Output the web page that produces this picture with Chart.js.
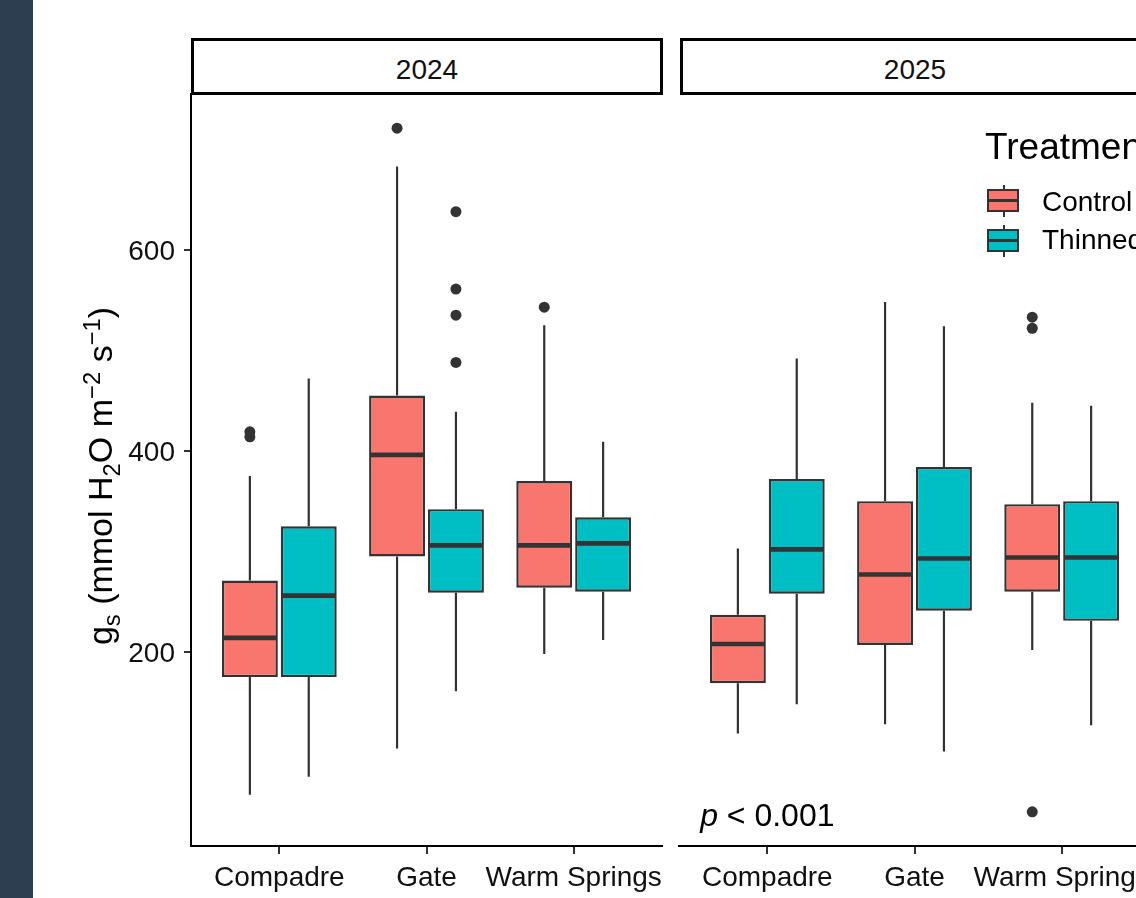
<!DOCTYPE html>
<html>
<head>
<meta charset="utf-8">
<script src="https://cdn.jsdelivr.net/npm/chart.js@4.4.1/dist/chart.umd.min.js"></script>
<style>
  html, body { margin: 0; padding: 0; }
  body { width: 1136px; height: 898px; overflow: hidden; background: #fff; position: relative;
         font-family: "Liberation Sans", Arial, sans-serif; color: #000; }
  .abs { position: absolute; }
  .strip { position: absolute; top: 38px; height: 57px; box-sizing: border-box; border: 3px solid #000;
           background: #fff; font-size: 28px; line-height: 28px; text-align: center; padding-top: 15px; color: #111; }
  .keyW { position: absolute; left: 1003px; width: 2px; background: #333; }
  .keyB { position: absolute; left: 987px; width: 32px; height: 23px; box-sizing: border-box; border: 2px solid #333; }
  .keyM { position: absolute; left: 987px; width: 32px; height: 3px; background: #333; }
  .lg { position: absolute; left: 1042px; font-size: 28px; line-height: 28px; white-space: nowrap; }
  sub, sup { font-size: 0.7em; line-height: 0; }
</style>
</head>
<body>
<div class="abs" style="left:0;top:0;width:33px;height:898px;background:#2c3e50"></div>

<div class="strip" style="left:191px;width:472px">2024</div>
<div class="strip" style="left:680px;width:470px">2025</div>

<canvas id="c1" class="abs" width="680" height="898" style="left:0;top:0;width:680px;height:898px"></canvas>
<canvas id="c2" class="abs" width="500" height="898" style="left:660px;top:0;width:500px;height:898px"></canvas>

<div class="abs" style="left:-150px;top:459px;width:500px;height:34px;line-height:34px;font-size:34px;text-align:center;white-space:nowrap;transform:rotate(-90deg);transform-origin:50% 50%">g<sub>s</sub> (mmol H<sub>2</sub>O m<sup>−2</sup> s<sup>−1</sup>)</div>

<!-- legend -->
<div class="abs" style="left:985px;top:128px;font-size:37px;line-height:37px;white-space:nowrap">Treatment</div>
<div class="keyW" style="top:185px;height:32px"></div>
<div class="keyB" style="top:189px;background:#F8766D"></div>
<div class="keyM" style="top:199px"></div>
<div class="lg" style="top:188px">Control</div>
<div class="keyW" style="top:225px;height:32px"></div>
<div class="keyB" style="top:229px;background:#00BFC4"></div>
<div class="keyM" style="top:239px"></div>
<div class="lg" style="top:226px">Thinned</div>

<script>
// ---------------- data ----------------
const sites = ['Compadre', 'Gate', 'Warm Springs'];
const years = ['2024', '2025'];
const yTicks = [200, 400, 600];
const yRange = [7, 755];

// five-number summaries per site: [lower whisker, Q1, median, Q3, upper whisker]
const control2024 = [[58, 175, 214, 271, 375], [104, 295, 396, 455, 683], [198, 264, 306, 370, 525]];
const thinned2024 = [[76, 175, 256, 325, 472], [161, 259, 306, 342, 439], [212, 260, 308, 334, 409]];
const control2025 = [[119, 169, 208, 237, 303], [128, 207, 277, 350, 548], [202, 260, 294, 347, 448]];
const thinned2025 = [[148, 258, 302, 372, 492], [101, 241, 293, 384, 524], [127, 231, 294, 350, 445]];

// outliers per site
const outControl2024 = [[414, 419], [721], [543]];
const outThinned2024 = [[], [488, 535, 561, 638], []];
const outControl2025 = [[], [], [41, 522, 533]];
const outThinned2025 = [[], [], []];

const pText = { italic: 'p', rest: ' < 0.001', site: 0, y: 36 };

const colControl = '#F8766D';
const colThinned = '#00BFC4';
const lineCol = '#333333';

// ---------------- chart ----------------
Chart.defaults.font.family = '"Liberation Sans", Arial, sans-serif';
Chart.defaults.color = '#111';

const boxPlugin = {
  id: 'boxplot',
  beforeDatasetsDraw(chart) {
    const ctx = chart.ctx, y = chart.scales.y;
    ctx.save();
    ctx.strokeStyle = lineCol; ctx.lineWidth = 2.2;
    chart.data.datasets.forEach((ds, di) => {
      if (!ds.stats) return;
      chart.getDatasetMeta(di).data.forEach((el, i) => {
        const s = ds.stats[i];
        ctx.beginPath();
        ctx.moveTo(el.x, y.getPixelForValue(s[3])); ctx.lineTo(el.x, y.getPixelForValue(s[4]));
        ctx.moveTo(el.x, y.getPixelForValue(s[1])); ctx.lineTo(el.x, y.getPixelForValue(s[0]));
        ctx.stroke();
      });
    });
    ctx.restore();
  },
  afterDatasetsDraw(chart) {
    const ctx = chart.ctx, y = chart.scales.y;
    ctx.save();
    ctx.strokeStyle = lineCol; ctx.lineWidth = 4.6;
    chart.data.datasets.forEach((ds, di) => {
      if (!ds.stats) return;
      chart.getDatasetMeta(di).data.forEach((el, i) => {
        const py = y.getPixelForValue(ds.stats[i][2]);
        ctx.beginPath();
        ctx.moveTo(el.x - el.width / 2 + 1, py); ctx.lineTo(el.x + el.width / 2 - 1, py);
        ctx.stroke();
      });
    });
    const ann = chart.options.plugins.boxplot && chart.options.plugins.boxplot.annotation;
    if (ann) {
      const px = chart.scales.x.getPixelForValue(ann.site);
      const py = y.getPixelForValue(ann.y);
      const fi = 'italic 32px "Liberation Sans", Arial, sans-serif';
      const fn = '32px "Liberation Sans", Arial, sans-serif';
      ctx.font = fi; const w1 = ctx.measureText(ann.italic).width;
      ctx.font = fn; const w2 = ctx.measureText(ann.rest).width;
      const x0 = px - (w1 + w2) / 2;
      ctx.fillStyle = '#000'; ctx.textBaseline = 'middle'; ctx.textAlign = 'left';
      ctx.font = fi; ctx.fillText(ann.italic, x0, py);
      ctx.font = fn; ctx.fillText(ann.rest, x0 + w1, py);
    }
    ctx.restore();
  }
};

function boxDataset(label, color, stats) {
  return {
    type: 'bar', label, stats,
    data: stats.map((s, i) => ({ x: i, y: [s[1], s[3]] })),
    backgroundColor: color, borderColor: lineCol, borderWidth: 2.4, borderSkipped: false,
    barPercentage: 0.95, categoryPercentage: 0.8, order: 2
  };
}
function outlierDataset(label, outs, dodge) {
  const pts = [];
  outs.forEach((arr, i) => arr.forEach(v => pts.push({ x: i + dodge, y: v })));
  return {
    type: 'scatter', label, data: pts, showLine: false,
    pointRadius: 5.5, pointBackgroundColor: lineCol, pointBorderWidth: 0, order: 1
  };
}

const tickGrid = { display: true, drawOnChartArea: false, drawTicks: true, tickLength: 8, color: '#333', lineWidth: 2, offset: false };
const axisBorder = { display: true, color: '#000', width: 2 };

function makePanel(id, control, thinned, outC, outT, showY, padding, annotation) {
  // dodge offset equals half of one group slot: categoryPercentage / 4
  const dodge = 0.8 / 4;
  return new Chart(document.getElementById(id), {
    type: 'bar',
    data: {
      datasets: [
        boxDataset('Control', colControl, control),
        boxDataset('Thinned', colThinned, thinned),
        outlierDataset('Control outliers', outC, -dodge),
        outlierDataset('Thinned outliers', outT, dodge)
      ]
    },
    options: {
      responsive: false, animation: false, devicePixelRatio: 1,
      layout: { padding },
      plugins: { legend: { display: false }, tooltip: { enabled: false }, boxplot: { annotation } },
      scales: {
        x: {
          type: 'linear', min: -0.6, max: sites.length - 0.4, offset: false,
          afterBuildTicks: s => { s.ticks = sites.map((_, i) => ({ value: i })); },
          afterFit: s => { s.height = 52; s.paddingLeft = 0; s.paddingRight = 0; },
          ticks: { callback: v => sites[Math.round(v)], font: { size: 28 }, color: '#111', padding: 7, autoSkip: false, maxRotation: 0 },
          grid: tickGrid, border: axisBorder
        },
        y: {
          display: showY, min: yRange[0], max: yRange[1], beginAtZero: false,
          afterBuildTicks: s => { s.ticks = yTicks.map(v => ({ value: v })); },
          afterFit: s => { s.width = showY ? 191 : 0; },
          ticks: { font: { size: 28 }, color: '#111', padding: 9, labelOffset: 2 },
          grid: Object.assign({}, tickGrid, { tickLength: 7 }), border: axisBorder
        }
      }
    },
    plugins: [boxPlugin]
  });
}

makePanel('c1', control2024, thinned2024, outControl2024, outThinned2024, true,
  { left: 0, top: 94, right: 18, bottom: 0 }, null);
makePanel('c2', control2025, thinned2025, outControl2025, outThinned2025, false,
  { left: 19, top: 94, right: 10, bottom: 0 }, pText);
</script>
</body>
</html>
